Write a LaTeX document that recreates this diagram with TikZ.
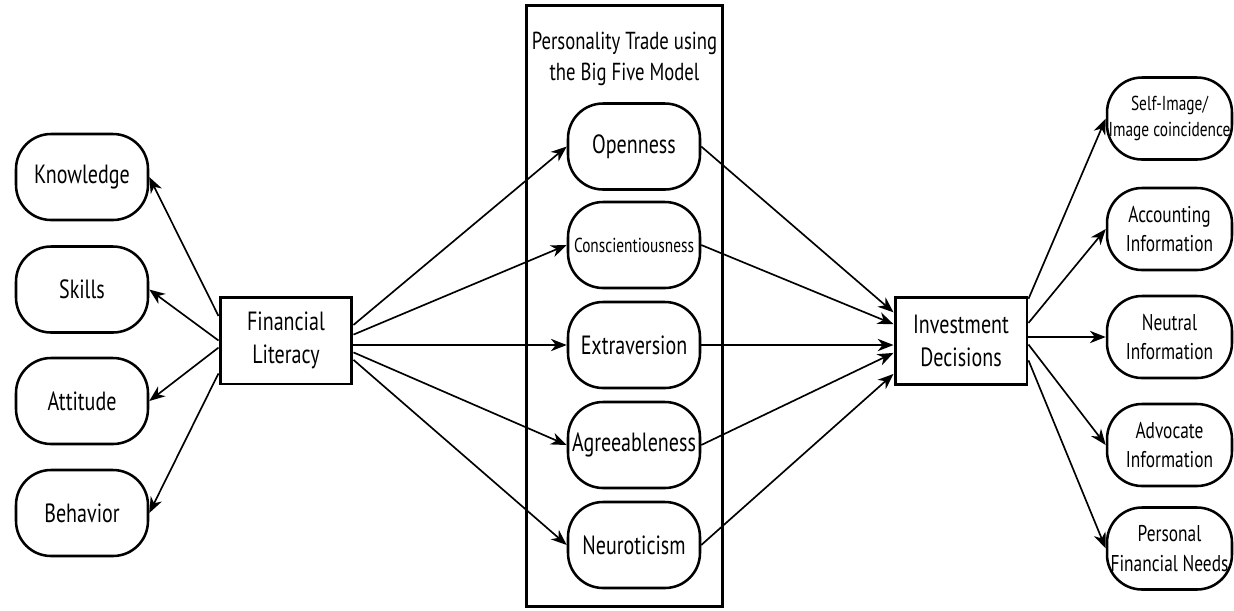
\documentclass[tikz,border=0pt]{standalone}
\usepackage{fontspec}
\setmainfont{PT Sans}[FakeStretch=0.76]
\usetikzlibrary{arrows.meta,positioning,calc}

\begin{document}
\begin{tikzpicture}[x=0.02cm, y=-0.02cm,
  box/.style={draw, line width=1.7pt, align=center, minimum width=2.64cm, minimum height=1.74cm, inner sep=0pt, font=\fontsize{15}{18.5}\selectfont},
  trait/.style={draw, line width=1.45pt, rounded corners=0.7cm, align=center, minimum width=2.64cm, minimum height=1.72cm, inner sep=0pt, font=\fontsize{15}{18}\selectfont},
  outcome/.style={trait, minimum width=2.5cm, minimum height=1.64cm, font=\fontsize{13}{17}\selectfont},
  frame/.style={draw, line width=1.7pt, minimum width=3.94cm, minimum height=12.04cm, inner sep=0pt},
  note/.style={align=center, font=\fontsize{14}{18}\selectfont},
  arr/.style={-{Stealth[length=9pt, width=7pt, inset=2.8pt]}, line width=0.95pt}
]
\useasboundingbox (0,0) rectangle (1234,610);

\node[trait] (know) at (82,177) {Knowledge};
\node[trait] (skill) at (82,289.5) {Skills};
\node[trait] (att) at (82,401) {Attitude};
\node[trait] (beh) at (82,513) {Behavior};
\node[box] (fl) at (286,340.5) {Financial\\Literacy};

\node[frame] (big5) at (624.5,306) {};
\node[note] (title) at (624.5,59) {Personality Trade using\\the Big Five Model};
\node[trait] (open) at (634,146.5) {Openness};
\node[trait, font=\fontsize{11.5}{12}\selectfont] (cons) at (634,245) {Conscientiousness};
\node[trait] (extra) at (634,345) {Extraversion};
\node[trait] (agree) at (634,445) {Agreeableness};
\node[trait] (neuro) at (634,545) {Neuroticism};

\node[box] (inv) at (961,341) {Investment\\Decisions};
\node[outcome, font=\fontsize{11.5}{15}\selectfont] (self) at (1169.5,118.5) {Self-Image/\\Image coincidence};
\node[outcome] (acc) at (1169.5,229) {Accounting\\Information};
\node[outcome] (neut) at (1169.5,337) {Neutral\\Information};
\node[outcome] (adv) at (1169.5,445) {Advocate\\Information};
\node[outcome] (pers) at (1169.5,548.5) {Personal\\Financial Needs};

\draw[arr] (fl.160) -- (know.east);
\draw[arr] (fl.west) -- (skill.east);
\draw[arr] (fl.186) -- (att.east);
\draw[arr] (fl.206) -- (beh.east);

\draw[arr] (fl.13) -- (open.west);
\draw[arr] (fl.5) -- (cons.west);
\draw[arr] (fl.east |- extra.west) -- (extra.west);
\draw[arr] (fl.350) -- (agree.west);
\draw[arr] (fl.344) -- (neuro.west);

\draw[arr] (open.east) -- (inv.157);
\draw[arr] (cons.east) -- (inv.166);
\draw[arr] (extra.east) -- (inv.west |- extra.east);
\draw[arr] (agree.east) -- (inv.190);
\draw[arr] (neuro.east) -- (inv.206);

\draw[arr] (inv.32) -- (self.west);
\draw[arr] (inv.15) -- (acc.west);
\draw[arr] (inv.east |- neut.west) -- (neut.west);
\draw[arr] (inv.357) -- (adv.west);
\draw[arr] (inv.344) -- (pers.west);

\end{tikzpicture}
\end{document}
